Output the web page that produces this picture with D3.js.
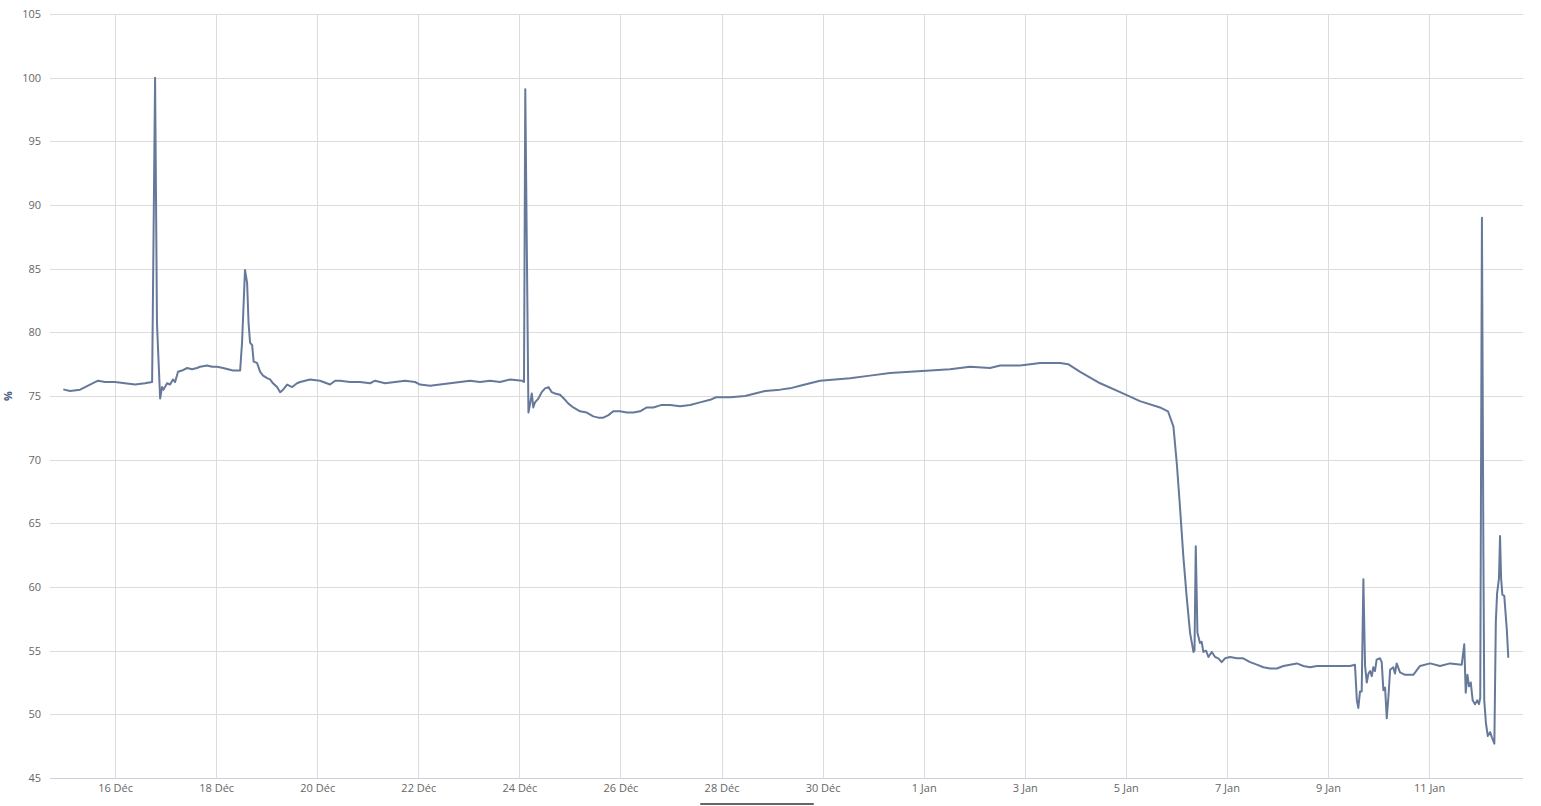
<!DOCTYPE html>
<html>
<head>
<meta charset="utf-8">
<script src="https://cdn.jsdelivr.net/npm/d3@7"></script>
<style>
  html, body { margin: 0; padding: 0; background: #fff; }
  svg { display: block; font-family: "Open Sans", "DejaVu Sans", sans-serif; }
</style>
</head>
<body>
<svg id="chart" width="1541" height="806"></svg>
<script>
// ---- data ----
const startDate = "2014-12-14T00:00:00Z";           // hours below are counted from this instant
const hours = [
  23.8, 26.6, 31.4, 36.1, 39.9, 43.3, 48.0, 52.7, 57.5, 62.2, 65.6, 67.0, 67.9, 69.4, 70.3, 71.0,
  72.7, 74.1, 75.5, 76.5, 77.9, 79.8, 82.2, 84.6, 86.9, 88.4, 91.7, 94.1, 96.4, 99.3, 104.0, 107.4,
  108.3, 109.7, 110.7, 111.4, 112.1, 113.1, 113.8, 115.4, 116.9, 118.3, 120.2, 121.6, 123.0, 124.9,
  126.4, 127.8, 129.7, 132.1, 134.4, 135.9, 140.6, 145.3, 150.1, 152.5, 154.8, 159.6, 164.3, 169.1,
  171.5, 176.2, 181.0, 185.7, 190.5, 192.8, 197.6, 202.3, 207.1, 211.8, 216.6, 221.3, 226.1, 230.8,
  235.6, 241.3, 242.2, 242.8, 244.3, 245.1, 245.9, 246.6, 247.4, 249.0, 250.6, 252.2, 253.8, 254.6,
  255.4, 256.9, 259.3, 261.7, 263.3, 265.6, 268.8, 272.0, 275.1, 277.5, 279.9, 282.3, 284.6, 287.8,
  291.0, 294.1, 297.3, 300.5, 303.6, 307.6, 311.6, 316.3, 321.1, 325.8, 330.6, 333.4, 340.1, 347.2,
  351.9, 356.7, 363.8, 368.5, 373.3, 378.0, 382.8, 389.9, 397.0, 406.5, 416.0, 425.5, 435.0, 444.5,
  454.0, 463.5, 468.3, 477.8, 487.3, 496.8, 500.6, 506.3, 515.8, 525.3, 534.7, 544.2, 548.0, 550.6,
  552.2, 553.7, 555.3, 556.9, 558.5, 560.1, 560.6, 561.2, 562.0, 563.2, 564.0, 564.8, 566.1, 567.2,
  568.8, 570.4, 571.9, 573.5, 575.1, 577.5, 580.7, 583.7, 587.0, 590.2, 593.3, 596.5, 599.7, 602.8,
  606.0, 609.2, 612.3, 615.5, 618.7, 621.8, 628.2, 634.5, 636.8, 637.7, 638.4, 639.2, 640.0, 640.8,
  641.6, 642.4, 643.2, 644.0, 644.8, 645.5, 646.3, 647.1, 648.7, 649.5, 650.3, 651.1, 651.9, 652.7,
  653.5, 655.0, 655.8, 656.6, 658.2, 660.6, 664.5, 667.7, 672.5, 677.2, 682.0, 687.5, 688.7, 689.4,
  690.2, 691.0, 691.8, 692.7, 693.8, 694.9, 695.7, 696.3, 697.1, 697.8, 698.2, 699.0, 699.9, 701.0,
  701.8, 703.0, 703.7, 704.3, 705.2, 705.7, 706.2, 706.8, 707.7, 708.9, 709.6
];
const values = [
  75.5, 75.4, 75.5, 75.9, 76.2, 76.1, 76.1, 76.0, 75.9, 76.0, 76.1, 100.0, 80.7, 74.8, 75.7, 75.5,
  76.0, 75.9, 76.3, 76.1, 76.9, 77.0, 77.2, 77.1, 77.2, 77.3, 77.4, 77.3, 77.3, 77.2, 77.0, 77.0,
  79.2, 84.9, 83.9, 80.7, 79.2, 79.0, 77.7, 77.6, 76.9, 76.6, 76.4, 76.3, 76.0, 75.7,
  75.3, 75.5, 75.9, 75.7, 76.0, 76.1, 76.3, 76.2, 75.9, 76.2, 76.2, 76.1, 76.1, 76.0,
  76.2, 76.0, 76.1, 76.2, 76.1, 75.9, 75.8, 75.9, 76.0, 76.1, 76.2, 76.1, 76.2, 76.1,
  76.3, 76.2, 76.1, 99.1, 73.7, 74.4, 75.2, 74.1, 74.5, 74.8, 75.3, 75.6, 75.7, 75.5,
  75.3, 75.2, 75.1, 74.7, 74.4, 74.1, 73.8, 73.7, 73.4, 73.3, 73.3, 73.5, 73.8, 73.8,
  73.7, 73.7, 73.8, 74.1, 74.1, 74.3, 74.3, 74.2, 74.3, 74.5, 74.7, 74.9, 74.9, 75.0,
  75.2, 75.4, 75.5, 75.6, 75.8, 76.0, 76.2, 76.3, 76.4, 76.6, 76.8, 76.9, 77.0, 77.1,
  77.3, 77.2, 77.4, 77.4, 77.6, 77.6, 77.5, 76.9, 76.0, 75.3, 74.6, 74.1, 73.8, 72.6,
  69.7, 66.3, 62.4, 59.2, 56.4, 54.9, 55.0, 63.2, 56.4, 55.6, 55.7, 54.9, 55.0, 54.5,
  54.9, 54.5, 54.4, 54.1, 54.4, 54.5, 54.4, 54.4, 54.1, 53.9, 53.7, 53.6, 53.6, 53.8,
  53.9, 54.0, 53.8, 53.7, 53.8, 53.8, 53.8, 53.8, 53.9, 51.1, 50.5, 51.8, 51.8, 60.6,
  53.8, 52.5, 53.2, 53.4, 53.0, 53.7, 53.4, 54.3, 54.4, 54.1, 51.9, 52.1, 49.7, 51.4,
  53.5, 53.7, 53.2, 54.0, 53.3, 53.1, 53.1, 53.8, 54.0, 53.8, 54.0, 53.9, 55.5, 51.7,
  53.1, 52.2, 52.5, 51.1, 50.8, 51.1, 50.8, 51.3, 89.0, 62.4, 51.1, 49.3, 48.3, 48.6,
  48.2, 47.7, 57.3, 59.5, 60.7, 64.0, 60.7, 59.4, 59.3, 56.7, 54.5
];
const xDomainHours = [17.1, 716.6];
const yTicks = [45, 50, 55, 60, 65, 70, 75, 80, 85, 90, 95, 100, 105];
const xTickDates = ["2014-12-16", "2014-12-18", "2014-12-20", "2014-12-22", "2014-12-24", "2014-12-26",
  "2014-12-28", "2014-12-30", "2015-01-01", "2015-01-03", "2015-01-05", "2015-01-07", "2015-01-09", "2015-01-11"];
const monthsFr = ["Jan", "Fév", "Mar", "Avr", "Mai", "Juin", "Juil", "Aoû", "Sep", "Oct", "Nov", "Déc"];
const yTitle = "%";

// ---- layout ----
const margin = { left: 50, right: 18, top: 14, bottom: 28 };
const W = 1541, H = 806;
const plotW = W - margin.left - margin.right;   // 1473
const plotH = 778 - margin.top;                 // 764

const t0 = new Date(startDate).getTime();
const toDate = h => new Date(t0 + h * 3600 * 1000);
const data = hours.map((h, i) => ({ t: toDate(h), v: values[i] }));

const svg = d3.select("#chart");
const g = svg.append("g").attr("transform", `translate(${margin.left},${margin.top})`);

const x = d3.scaleUtc().domain(xDomainHours.map(toDate)).range([0, plotW]);
const y = d3.scaleLinear().domain([45, 105]).range([plotH, 0]);

// horizontal grid
g.append("g").selectAll("line").data(yTicks).join("line")
  .attr("x1", 0).attr("x2", plotW)
  .attr("y1", d => Math.round(y(d)) + 0.5).attr("y2", d => Math.round(y(d)) + 0.5)
  .attr("stroke", "#dcdcdc").attr("stroke-width", 1);

// vertical grid
const tickDates = xTickDates.map(s => new Date(s + "T00:00:00Z"));
g.append("g").selectAll("line").data(tickDates).join("line")
  .attr("x1", d => Math.round(x(d)) + 0.5).attr("x2", d => Math.round(x(d)) + 0.5)
  .attr("y1", 0).attr("y2", plotH)
  .attr("stroke", "#dcdcdc").attr("stroke-width", 1);

// x axis line
g.append("line").attr("x1", 0).attr("x2", plotW)
  .attr("y1", plotH + 0.5).attr("y2", plotH + 0.5)
  .attr("stroke", "#c8d2e0").attr("stroke-width", 1);

// y axis labels
const yAxis = d3.axisLeft(y).tickValues(yTicks).tickSize(0).tickPadding(9);
const ya = g.append("g").call(yAxis);
ya.select(".domain").remove();
ya.selectAll("text").attr("fill", "#666").style("font-size", "11px")
  .style("font-family", '"Open Sans", sans-serif');

// x axis labels
const xAxis = d3.axisBottom(x).tickValues(tickDates).tickSize(0).tickPadding(6)
  .tickFormat(d => `${d.getUTCDate()} ${monthsFr[d.getUTCMonth()]}`);
const xa = g.append("g").attr("transform", `translate(0,${plotH})`).call(xAxis);
xa.select(".domain").remove();
xa.selectAll("text").attr("fill", "#666").style("font-size", "11px")
  .style("font-family", '"Open Sans", sans-serif');

// y title
svg.append("text")
  .attr("transform", `translate(12,${margin.top + y(75)}) rotate(-90)`)
  .attr("text-anchor", "middle")
  .attr("fill", "#4d5f7e").style("font-size", "11px").style("font-weight", "bold")
  .text(yTitle);

// series line
const line = d3.line().x(d => x(d.t)).y(d => y(d.v));
g.append("path").datum(data)
  .attr("d", line)
  .attr("fill", "none")
  .attr("stroke", "#66799a")
  .attr("stroke-width", 2)
  .attr("stroke-linejoin", "round")
  .attr("stroke-linecap", "round");

// scrollbar-like element at bottom
svg.append("line")
  .attr("x1", 701).attr("x2", 813).attr("y1", 804).attr("y2", 804)
  .attr("stroke", "#666").attr("stroke-width", 2).attr("stroke-linecap", "round");
</script>
</body>
</html>
